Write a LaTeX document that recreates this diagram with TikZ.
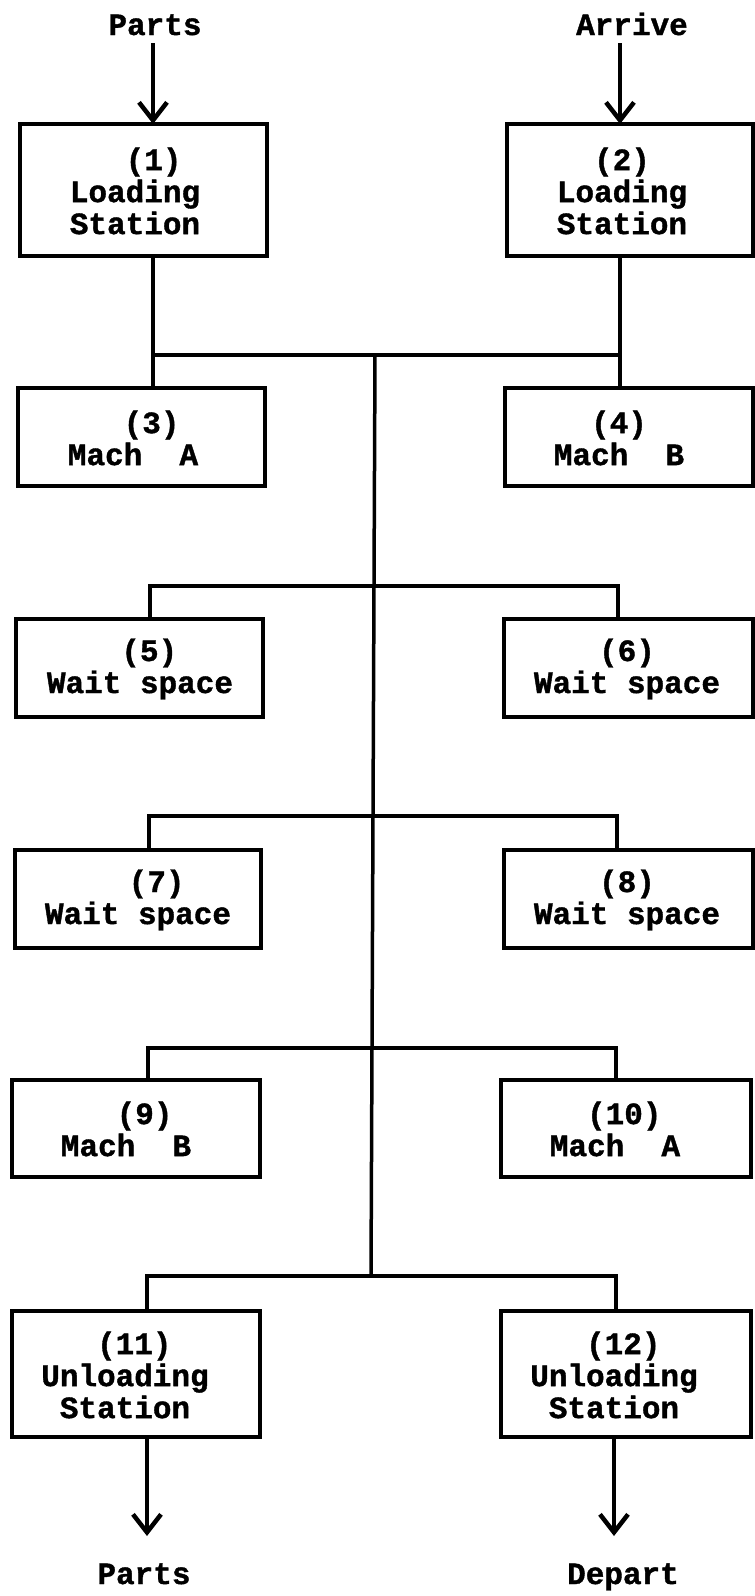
\documentclass[tikz,border=0pt]{standalone}
\usepackage{fontspec}
\newfontfamily\tw{Liberation Mono}[WordSpace={1,0,0},BoldFeatures={FakeBold=1.2}]
\usetikzlibrary{arrows.meta}
\begin{document}
\begin{tikzpicture}[x=1pt,y=-1pt,
  ln/.style={line width=3.5pt},
  arr/.style={line width=3.5pt,-{Straight Barb[length=18pt,width=28pt,line width=4.5pt]}},
  box/.style={draw,line width=3.5pt,inner sep=0pt,outer sep=0pt},
  tall/.style={minimum height=132pt},
  short/.style={minimum height=98pt},
  txt/.style={font=\tw\bfseries\fontsize{31}{32}\selectfont,align=center,inner sep=0pt},
  lbl/.style={font=\tw\bfseries\fontsize{31}{32}\selectfont,inner sep=0pt,anchor=base}]
\useasboundingbox (0,0) rectangle (755,1596);

% boxes
\node[box,tall,minimum width=247pt] (b1) at (143.5,190) {};
\node[box,tall,minimum width=246pt] (b2) at (630,190) {};
\node[box,short,minimum width=247pt] (b3) at (141.5,437) {};
\node[box,short,minimum width=248pt] (b4) at (629,437) {};
\node[box,short,minimum width=247pt] (b5) at (139.5,668) {};
\node[box,short,minimum width=249pt] (b6) at (628.5,668) {};
\node[box,short,minimum width=246pt] (b7) at (138,899) {};
\node[box,short,minimum width=249pt] (b8) at (628.5,899) {};
\node[box,minimum height=97pt,minimum width=248pt] (b9) at (136,1128.5) {};
\node[box,minimum height=97pt,minimum width=250pt] (b10) at (626,1128.5) {};
\node[box,minimum height=126pt,minimum width=248pt] (b11) at (136,1374) {};
\node[box,minimum height=126pt,minimum width=250pt] (b12) at (626,1374) {};

% texts
\node[txt] (t1) at (135,191) {\phantom{00}(1)\\Loading\\Station};
\node[txt] (t2) at (622,191) {(2)\\Loading\\Station};
\node[txt] (t3) at (133,438) {\phantom{00}(3)\\Mach\ \ A};
\node[txt] (t4) at (619,438) {(4)\\Mach\ \ B};
\node[txt] (t5) at (140,669) {\phantom{0}(5)\\Wait space};
\node[txt] (t6) at (627,669) {(6)\\Wait space};
\node[txt] (t7) at (138,900) {\phantom{00}(7)\\Wait space};
\node[txt] (t8) at (627,900) {(8)\\Wait space};
\node[txt] (t9) at (126,1129) {\phantom{00}(9)\\Mach\ \ B};
\node[txt] (t10) at (615,1129) {\phantom{0}(10)\\Mach\ \ A};
\node[txt] (t11) at (125,1375) {\phantom{0}(11)\\Unloading\\Station};
\node[txt] (t12) at (614,1375) {\phantom{0}(12)\\Unloading\\Station};

% outside labels
\node[lbl] (pin) at (155,35) {Parts};
\node[lbl] (ain) at (632,35) {Arrive};
\node[lbl] (pout) at (144,1584) {Parts};
\node[lbl] (dout) at (623,1584) {Depart};

% coordinates
\coordinate (i1) at (153,43);
\coordinate (i2) at (620,43);
\coordinate (o1) at (147,1536);
\coordinate (o2) at (614,1536);
\coordinate (j0L) at (153,355);
\coordinate (j0R) at (620,355);
\coordinate (j0C) at (375,355);
\coordinate (j1L) at (150,586);
\coordinate (j1R) at (618,586);
\coordinate (j2L) at (149,816);
\coordinate (j2R) at (617,816);
\coordinate (j3L) at (148,1048);
\coordinate (j3R) at (616,1048);
\coordinate (j4L) at (147,1276);
\coordinate (j4R) at (616,1276);
\coordinate (j4C) at (371,1276);

% input / output arrows
\draw[arr] (i1) -- (b1.north -| i1);
\draw[arr] (i2) -- (b2.north -| i2);
\draw[arr] (b11.south -| o1) -- (o1);
\draw[arr] (b12.south -| o2) -- (o2);

% top connections
\draw[ln] (b1.south -| j0L) -- (b3.north -| j0L);
\draw[ln] (b2.south -| j0R) -- (b4.north -| j0R);
\draw[ln] (j0L) -- (j0R);
\draw[ln] (j0C) -- (j4C);

% branches
\draw[ln] (b5.north -| j1L) -- (j1L) -- (j1R) -- (b6.north -| j1R);
\draw[ln] (b7.north -| j2L) -- (j2L) -- (j2R) -- (b8.north -| j2R);
\draw[ln] (b9.north -| j3L) -- (j3L) -- (j3R) -- (b10.north -| j3R);
\draw[ln] (b11.north -| j4L) -- (j4L) -- (j4R) -- (b12.north -| j4R);
\end{tikzpicture}
\end{document}
